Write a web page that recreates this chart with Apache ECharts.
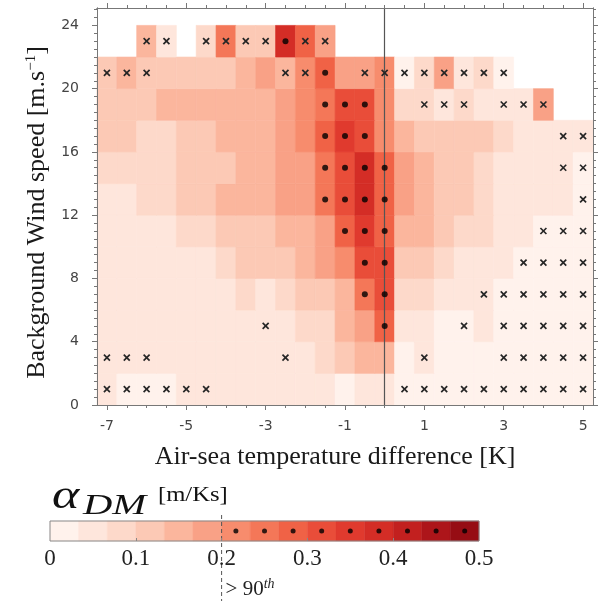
<!DOCTYPE html>
<html><head><meta charset="utf-8">
<script src="https://cdn.jsdelivr.net/npm/echarts@6/dist/echarts.min.js"></script>
<style>html,body{margin:0;padding:0;background:#fff}#c{width:598px;height:601px}</style>
</head><body><div id="c"></div>
<script>
// ---------- data ----------
const tempDiff = [-7,-6.5,-6,-5.5,-5,-4.5,-4,-3.5,-3,-2.5,-2,-1.5,-1,-0.5,0,0.5,1,1.5,2,2.5,3,3.5,4,4.5,5];
const windSpeed = [1,3,5,7,9,11,13,15,17,19,21,23];
const alpha_w01 = [.05,.02,.02,.02,.05,.05,.05,.05,.05,.05,.05,.05,.02,.05,.05,.02,.02,.02,.02,.02,.02,.02,.02,.02,.02];
const alpha_w03 = [.05,.05,.05,.05,.05,.05,.05,.05,.05,.05,.05,.08,.12,.15,.15,.02,.05,.02,.02,.02,.02,.02,.02,.02,.02];
const alpha_w05 = [.05,.05,.05,.05,.05,.05,.05,.05,.05,.05,.08,.08,.15,.18,.28,.05,.05,.02,.02,.05,.02,.02,.02,.02,.02];
const alpha_w07 = [.05,.05,.05,.05,.05,.05,.05,.08,.05,.08,.12,.12,.15,.25,.32,.08,.08,.05,.05,.05,.02,.02,.02,.02,.02];
const alpha_w09 = [.05,.05,.05,.05,.05,.05,.08,.12,.12,.12,.15,.18,.22,.32,.32,.12,.12,.08,.05,.05,.05,.02,.02,.02,.02];
const alpha_w11 = [.05,.05,.05,.05,.08,.08,.12,.12,.12,.15,.15,.18,.28,.35,.28,.15,.15,.12,.08,.08,.05,.05,.02,.02,.02];
const alpha_w13 = [.05,.05,.08,.08,.12,.12,.15,.15,.15,.18,.18,.25,.32,.38,.28,.18,.15,.12,.12,.08,.05,.05,.05,.05,.02];
const alpha_w15 = [.08,.08,.08,.08,.12,.12,.12,.15,.15,.18,.18,.25,.32,.38,.28,.18,.15,.12,.12,.08,.05,.05,.05,.05,.02];
const alpha_w17 = [.12,.12,.08,.08,.12,.12,.15,.15,.15,.18,.22,.28,.35,.32,.22,.15,.12,.12,.12,.12,.08,.05,.05,.05,.05];
const alpha_w19 = [.12,.12,.12,.15,.15,.15,.15,.15,.15,.18,.22,.25,.32,.32,.22,.08,.08,.05,.08,.05,.05,.05,.18,null,null];
const alpha_w21 = [.12,.15,.12,.12,.12,.12,.12,.15,.18,.15,.22,.28,.18,.18,.22,.02,.08,.18,.05,.08,.02,null,null,null,null];
const alpha_w23 = [null,null,.15,.05,null,.08,.25,.12,.12,.38,.28,.18,null,null,null,null,null,null,null,null,null,null,null,null,null];
const alphaRows = [alpha_w01,alpha_w03,alpha_w05,alpha_w07,alpha_w09,alpha_w11,alpha_w13,alpha_w15,alpha_w17,alpha_w19,alpha_w21,alpha_w23];

// markers: x = not significant, dot = above 90th percentile
const crossPoints = [
 [-6,23],[-5.5,23],[-4.5,23],[-4,23],[-3.5,23],[-3,23],[-2,23],[-1.5,23],
 [-7,21],[-6.5,21],[-6,21],[-2.5,21],[-2,21],[-0.5,21],[0,21],[0.5,21],[1,21],[1.5,21],[2,21],[2.5,21],[3,21],
 [1,19],[1.5,19],[2,19],[3,19],[3.5,19],[4,19],
 [4.5,17],[5,17],
 [4.5,15],[5,15],
 [5,13],
 [4,11],[4.5,11],[5,11],
 [3.5,9],[4,9],[4.5,9],[5,9],
 [2.5,7],[3,7],[3.5,7],[4,7],[4.5,7],[5,7],
 [-3,5],[2,5],[3,5],[3.5,5],[4,5],[4.5,5],[5,5],
 [-7,3],[-6.5,3],[-6,3],[-2.5,3],[1,3],[3,3],[3.5,3],[4,3],[4.5,3],[5,3],
 [-7,1],[-6.5,1],[-6,1],[-5.5,1],[-5,1],[-4.5,1],[0.5,1],[1,1],[1.5,1],[2,1],[2.5,1],[3,1],[3.5,1],[4,1],[4.5,1],[5,1]
];
const dotPoints = [
 [-2.5,23],[-1.5,21],
 [-1.5,19],[-1,19],[-0.5,19],
 [-1.5,17],[-1,17],[-0.5,17],
 [-1.5,15],[-1,15],[-0.5,15],[0,15],
 [-1.5,13],[-1,13],[-0.5,13],[0,13],
 [-1,11],[-0.5,11],[0,11],
 [-0.5,9],[0,9],
 [-0.5,7],[0,7],
 [0,5]
];
const xTickLabels = [-7,-5,-3,-1,1,3,5];
const yTickLabels = [0,4,8,12,16,20,24];
const cbEdges = [0,0.0333,0.0667,0.1,0.1333,0.1667,0.2,0.2333,0.2667,0.3,0.3333,0.3667,0.4,0.4333,0.4667,0.5];
const cbLabels = [0,0.1,0.2,0.3,0.4,0.5];
const percentile90 = 0.2;
const levelColors = ['#fff2ec','#fee6dc','#fdd9ca','#fcc9b5','#fbb69d','#f9a186','#f78c6d','#f47758','#f06246','#e94d39','#e03a2e','#d42d26','#c2201f','#ad151a','#960d14'];

// ---------- helpers ----------
function colorOf(v){
  for (let i=0;i<levelColors.length;i++){ if (v < cbEdges[i+1]) return levelColors[i]; }
  return levelColors[levelColors.length-1];
}
const cellData = [];
windSpeed.forEach((w,ri)=>{ tempDiff.forEach((t,ci)=>{ const v = alphaRows[ri][ci]; if (v!==null) cellData.push([t,w,v]); }); });
const cbData = [];
for (let i=0;i<levelColors.length;i++) cbData.push([cbEdges[i], cbEdges[i+1], i]);
const cbDots = [];
for (let i=0;i<levelColors.length;i++) if (cbEdges[i] >= percentile90 - 1e-6) cbDots.push([(cbEdges[i]+cbEdges[i+1])/2, 0.5]);
const yMinor = []; for (let v=0; v<=25; v+=0.5) yMinor.push(v);
const halfW = 0.25, halfH = 1;

const SERIF = '"Liberation Serif", "DejaVu Serif", serif';
const SANS = '"DejaVu Sans", sans-serif';
const frame = {color:'#777', width:1};
function xAx(pos, ticks, len, label){
  return {type:'value', gridIndex:0, min:-7.25, max:5.25, position:pos, z:10,
    axisLine:{show:true, onZero:false, lineStyle:frame}, splitLine:{show:false},
    axisTick:{show:true, length:len, customValues:ticks, lineStyle:frame},
    axisLabel: label ? {show:true, customValues:xTickLabels, formatter:v=>String(v), fontFamily:SANS, fontSize:14, color:'#444', margin:14} : {show:false}};
}
function yAx(pos, ticks, len, label){
  return {type:'value', gridIndex:0, min:0, max:25.1, position:pos, z:10,
    axisLine:{show:true, onZero:false, lineStyle:frame}, splitLine:{show:false},
    axisTick:{show:true, length:len, customValues:ticks, lineStyle:frame},
    axisLabel: label ? {show:true, customValues:yTickLabels, formatter:v=>String(v), fontFamily:SANS, fontSize:14, color:'#444', margin:18} : {show:false}};
}
const xMain = xAx('bottom', xTickLabels, 5, true);
xMain.name = 'Air-sea temperature difference [K]';
xMain.nameLocation = 'middle'; xMain.nameGap = 39;
xMain.nameTextStyle = {fontFamily:SERIF, fontSize:26, color:'#1a1a1a', padding:[0,20,0,0]};
const yMain = yAx('left', yTickLabels, 5, true);
yMain.name = '{t|Background Wind speed [m.s}{s|−1}{t|]}';
yMain.nameLocation = 'middle'; yMain.nameGap = 47; yMain.nameRotate = 90;
yMain.nameTextStyle = {padding:[0,12,0,0], rich:{t:{fontFamily:SERIF, fontSize:26, color:'#1a1a1a'}, s:{fontFamily:SERIF, fontSize:15, color:'#1a1a1a', verticalAlign:'top', padding:[0,0,9,0]}}};

const chart = echarts.init(document.getElementById('c'), null, {renderer:'canvas'});
chart.setOption({
  animation:false,
  backgroundColor:'#fff',
  grid:[{left:97, right:5, top:8, bottom:196}, {left:50, width:429, top:521, height:20}],
  xAxis:[
    xMain,
    xAx('bottom', tempDiff, 3, false),
    xAx('top', xTickLabels, 5, false),
    xAx('top', tempDiff, 3, false),
    {type:'value', gridIndex:1, min:0, max:0.5, position:'bottom', z:10,
     axisLine:{show:false}, splitLine:{show:false},
     axisTick:{show:true, inside:true, length:3, customValues:cbLabels.slice(1,5), lineStyle:{color:'#888'}},
     axisLabel:{show:true, customValues:cbLabels, formatter:v=>String(v), fontFamily:SERIF, fontSize:23, color:'#222', margin:6}}
  ],
  yAxis:[
    yMain,
    yAx('left', yMinor, 3, false),
    yAx('right', yTickLabels, 5, false),
    yAx('right', yMinor, 3, false),
    {type:'value', gridIndex:1, min:0, max:1, show:false}
  ],
  series:[
    {type:'custom', name:'alpha', xAxisIndex:0, yAxisIndex:0, data:cellData, encode:{x:0,y:1},
     renderItem:function(params, api){
       const x = api.value(0), y = api.value(1), v = api.value(2);
       const p0 = api.coord([x-halfW, y+halfH]);
       const p1 = api.coord([x+halfW, y-halfH]);
       const c = colorOf(v);
       return {type:'rect', shape:{x:p0[0], y:p0[1], width:p1[0]-p0[0], height:p1[1]-p0[1]}, style:{fill:c, stroke:c, lineWidth:0.6}};
     },
     markLine:{silent:true, symbol:['none','none'], label:{show:false}, lineStyle:{color:'#555', type:'solid', width:1.2}, data:[{xAxis:0}], z:5}
    },
    {type:'custom', name:'cross', xAxisIndex:0, yAxisIndex:0, data:crossPoints, encode:{x:0,y:1}, z:6,
     renderItem:function(params, api){
       const p = api.coord([api.value(0), api.value(1)]);
       const r = 3;
       const st = {stroke:'#262626', lineWidth:1.7};
       return {type:'group', children:[
         {type:'line', shape:{x1:p[0]-r, y1:p[1]-r, x2:p[0]+r, y2:p[1]+r}, style:st},
         {type:'line', shape:{x1:p[0]-r, y1:p[1]+r, x2:p[0]+r, y2:p[1]-r}, style:st}]};
     }},
    {type:'scatter', name:'dot', xAxisIndex:0, yAxisIndex:0, data:dotPoints, symbol:'circle', symbolSize:6, itemStyle:{color:'#000'}, z:6},
    {type:'custom', name:'colorbar', xAxisIndex:4, yAxisIndex:4, data:cbData, encode:{x:[0,1]},
     renderItem:function(params, api){
       const p0 = api.coord([api.value(0), 1]);
       const p1 = api.coord([api.value(1), 0]);
       const c = levelColors[api.value(2)];
       return {type:'rect', shape:{x:p0[0], y:p0[1], width:p1[0]-p0[0], height:p1[1]-p0[1]}, style:{fill:c, stroke:c, lineWidth:0.5}};
     }},
    {type:'custom', name:'cbframe', xAxisIndex:4, yAxisIndex:4, data:[[0,0.5,0,1]], z:4,
     renderItem:function(params, api){
       const p0 = api.coord([api.value(0), api.value(3)]);
       const p1 = api.coord([api.value(1), api.value(2)]);
       return {type:'rect', shape:{x:p0[0], y:p0[1], width:p1[0]-p0[0], height:p1[1]-p0[1]}, style:{fill:'none', stroke:'#888', lineWidth:1}};
     }},
    {type:'scatter', name:'cbdot', xAxisIndex:4, yAxisIndex:4, data:cbDots, symbol:'circle', symbolSize:5, itemStyle:{color:'#000'}, z:6},
    {type:'custom', name:'p90', xAxisIndex:4, yAxisIndex:4, data:[[percentile90]], clip:false, z:7,
     renderItem:function(params, api){
       const pt = api.coord([api.value(0), 1]);
       return {type:'group', children:[
         {type:'line', shape:{x1:pt[0], y1:pt[1]-6, x2:pt[0], y2:601}, style:{stroke:'#555', lineWidth:1, lineDash:[4,3]}},
         {type:'text', x:pt[0]+4, y:589, style:{text:'{a|> 90}{b|th}', verticalAlign:'middle', align:'left',
           rich:{a:{fontFamily:SERIF, fontSize:21, fill:'#222'}, b:{fontFamily:SERIF, fontStyle:'italic', fontSize:14, fill:'#222', verticalAlign:'top', padding:[0,0,10,0]}}}}
       ]};
     }}
  ],
  graphic:[
    {type:'text', x:52, y:497, scaleX:1.3, style:{text:'α', font:'italic 40px "Liberation Serif"', fill:'#111', verticalAlign:'middle'}},
    {type:'text', x:83, y:506, scaleX:1.4, style:{text:'DM', font:'italic 29px "Liberation Serif"', fill:'#111', verticalAlign:'middle'}},
    {type:'text', x:158, y:495, scaleX:1.12, style:{text:'[m/Ks]', font:'22px "Liberation Serif"', fill:'#111', verticalAlign:'middle'}}
  ]
});
</script></body></html>
